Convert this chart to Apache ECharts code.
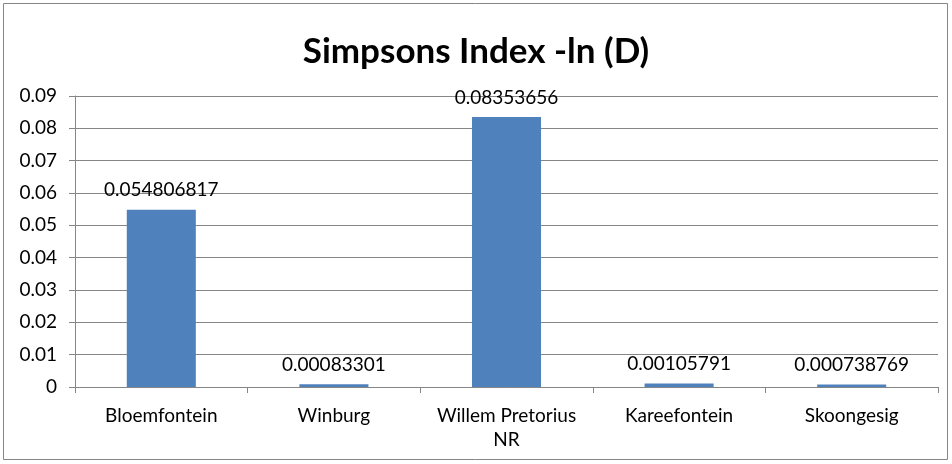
<!DOCTYPE html>
<html><head><meta charset="utf-8">
<script src="https://cdn.jsdelivr.net/npm/echarts@6/dist/echarts.min.js"></script>
<style>html,body{margin:0;padding:0;background:#fff}#c{width:952px;height:464px}</style>
</head><body><div id="c"></div>
<script>
const categories = ['Bloemfontein', 'Winburg', 'Willem Pretorius\nNR', 'Kareefontein', 'Skoongesig'];
const values = [0.054806817, 0.00083301, 0.08353656, 0.00105791, 0.000738769];
const valueLabels = ['0.054806817', '0.00083301', '0.08353656', '0.00105791', '0.000738769'];
const yTicks = ['0', '0.01', '0.02', '0.03', '0.04', '0.05', '0.06', '0.07', '0.08', '0.09'];

const chart = echarts.init(document.getElementById('c'));
const font = 'Lato, "Open Sans", sans-serif';
chart.setOption({
  animation: false,
  graphic: [{type: 'rect', shape: {x: 3.5, y: 3.5, width: 944, height: 456}, style: {fill: 'none', stroke: '#868686', lineWidth: 1}}],
  title: {text: 'Simpsons Index -ln (D)', left: 'center', top: 29,
    textStyle: {fontFamily: font, fontSize: 35, fontWeight: 'bold', color: '#000'}},
  grid: {left: 75, right: 14, top: 96, bottom: 77},
  xAxis: {type: 'category', data: categories,
    axisLine: {lineStyle: {color: '#868686'}},
    axisTick: {show: true, length: 6, lineStyle: {color: '#868686'}},
    axisLabel: {interval: 0, hideOverlap: false, fontFamily: font, fontSize: 19, color: '#000', margin: 17, lineHeight: 24}},
  yAxis: {type: 'value', min: 0, max: 0.09, interval: 0.01,
    axisLine: {show: true, lineStyle: {color: '#868686'}},
    axisTick: {show: true, length: 6, lineStyle: {color: '#868686'}},
    splitLine: {lineStyle: {color: '#868686'}},
    axisLabel: {fontFamily: font, fontSize: 19, color: '#000', margin: 18,
      formatter: (v) => yTicks[Math.round(v * 100)]}},
  series: [{type: 'bar', data: values, barWidth: '40%',
    itemStyle: {color: '#4F81BD'},
    label: {show: true, position: 'top', distance: 10, fontFamily: font, fontSize: 19, color: '#000',
      formatter: (p) => valueLabels[p.dataIndex]}}]
});
</script></body></html>
